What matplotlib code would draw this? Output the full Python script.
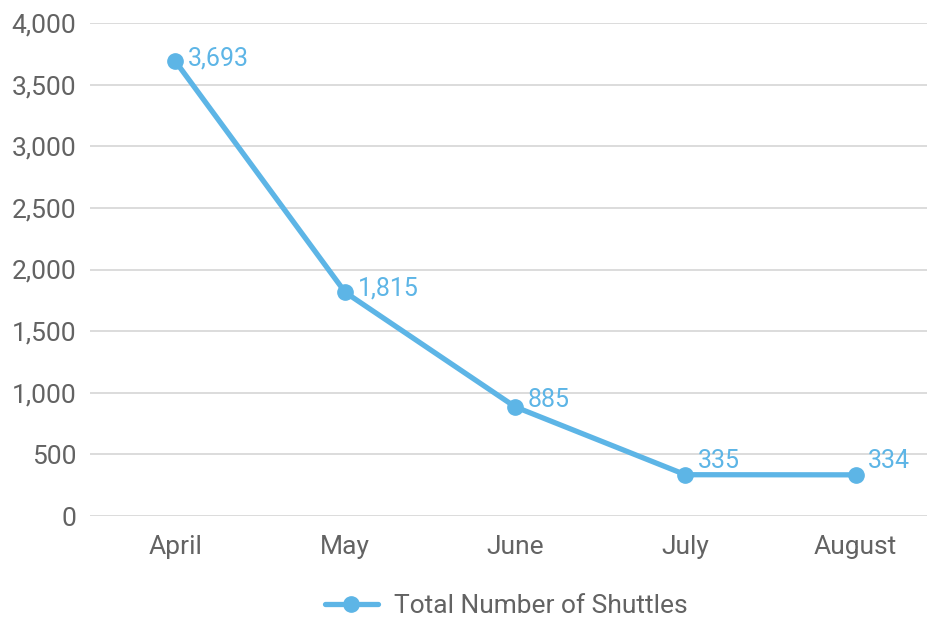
import numpy as np
import matplotlib
matplotlib.use("Agg")
import matplotlib.pyplot as plt
from matplotlib.ticker import FuncFormatter

months = ["April", "May", "June", "July", "August"]
shuttles = [3693, 1815, 885, 335, 334]
series_name = "Total Number of Shuttles"

plt.rcParams["font.family"] = ["Roboto", "DejaVu Sans"]

blue = "#5db5e6"
grey_text = "#636363"

fig = plt.figure(figsize=(9.27, 6.17), dpi=100)
ax = fig.add_axes([90 / 927, 1 - 516 / 617, 1 - 90 / 927, (516 - 23) / 617])

x = np.arange(len(months))
ax.plot(x, shuttles, color=blue, lw=3.8, marker="o", markersize=11,
        solid_capstyle="round", label=series_name, zorder=3)

# label offsets in points (right, up)
offsets = [(9, 2), (9, 3), (9, 5), (9, 10), (9, 10)]
for xi, v, (dx, dy) in zip(x, shuttles, offsets):
    ax.annotate(f"{v:,}", (xi, v), xytext=(dx, dy), textcoords="offset points",
                ha="left", va="center", color=blue, fontsize=18)

ax.set_xlim(-0.5, 4.42)
ax.set_ylim(0, 4000)
ax.set_yticks(np.arange(0, 4001, 500))
ax.yaxis.set_major_formatter(FuncFormatter(lambda v, p: f"{int(v):,}"))
ax.set_xticks(x)
ax.set_xticklabels(months)

ax.grid(axis="y", color="#d9d9d9", lw=1.3)
ax.set_axisbelow(True)
for s in ax.spines.values():
    s.set_visible(False)
ax.tick_params(length=0, labelsize=19, colors=grey_text, pad=10)
ax.tick_params(axis="x", pad=14)

leg = fig.legend(loc="center", bbox_to_anchor=(0.546, 1 - 606 / 617), frameon=False,
                 fontsize=19, handlelength=2.0, handletextpad=0.6, labelcolor=grey_text)

fig.savefig("out.png", dpi=100)
